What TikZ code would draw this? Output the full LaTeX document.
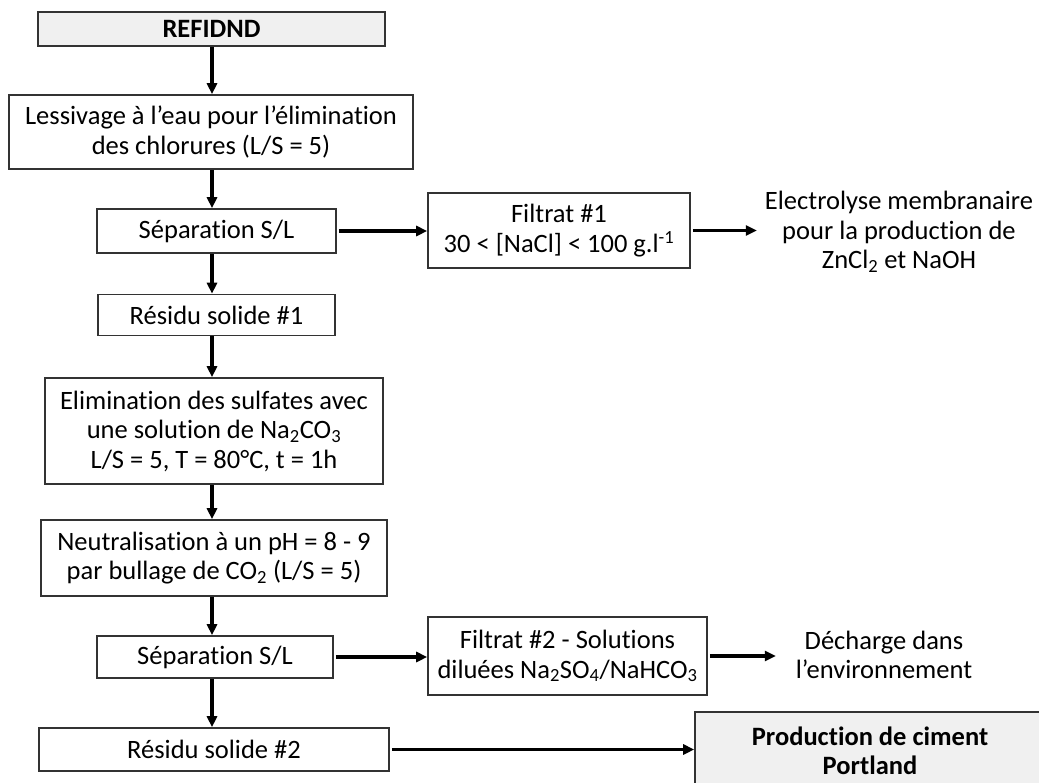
\documentclass[tikz,border=0pt]{standalone}
\usepackage{fontspec}
\setmainfont[Ligatures=NoCommon]{Carlito}
\usetikzlibrary{arrows.meta}
\begin{document}
\begin{tikzpicture}[x=1pt,y=-1pt,
  every node/.style={font=\fontsize{26.5}{29.5}\selectfont, align=center, inner sep=0pt},
  box/.style={draw=black!80, line width=1.6pt, fill=white},
  gbox/.style={draw=black!80, line width=1.6pt, fill=black!6},
  arr/.style={line width=3.2pt, -{Triangle[length=11pt,width=10pt]}}]
\useasboundingbox (0,0) rectangle (1039,782);
\coordinate (spine) at (212,0);
\node[gbox, minimum width=347pt, minimum height=34pt] (refidnd) at (211.5,29) {\bfseries REFIDND};
\node[box, minimum width=404pt, minimum height=74pt] (less) at (211,132) {Lessivage à l’eau pour l’élimination\\des chlorures (L/S = 5)};
\node[box, minimum width=239pt, minimum height=44pt] (sep1) at (216.5,231) {Séparation S/L};
\node[box, minimum width=262pt, minimum height=75pt] (filt1) at (559,230.5) {Filtrat \#1\\30 < [NaCl] < 100 g.l\textsuperscript{-1}};
\node (elec) at (899,232) {Electrolyse membranaire\\pour la production de\\ZnCl\textsubscript{2} et NaOH};
\node[box, minimum width=237pt, minimum height=41pt] (res1) at (216.5,315) {Résidu solide \#1};
\node[box, minimum width=338pt, minimum height=106pt] (elim) at (214,431) {Elimination des sulfates avec\\une solution de Na\textsubscript{2}CO\textsubscript{3}\\L/S = 5, T = 80°C, t = 1h};
\node[box, minimum width=346pt, minimum height=76pt] (neut) at (214,558) {Neutralisation à un pH = 8 - 9\\par bullage de CO\textsubscript{2} (L/S = 5)};
\node[box, minimum width=236pt, minimum height=42pt] (sep2) at (215,657) {Séparation S/L};
\node[box, minimum width=279pt, minimum height=78pt] (filt2) at (567.5,656) {Filtrat \#2 - Solutions\\diluées Na\textsubscript{2}SO\textsubscript{4}/NaHCO\textsubscript{3}};
\node (dech) at (884,655) {Décharge dans\\l’environnement};
\node[box, minimum width=350pt, minimum height=43pt] (res2) at (214,749.5) {Résidu solide \#2};
\node[gbox, minimum width=350pt, minimum height=78pt] (prod) at (870,751) {\bfseries Production de ciment\\\bfseries Portland};
\draw[arr] (refidnd.south -| spine) -- (less.north -| spine);
\draw[arr] (less.south -| spine) -- (sep1.north -| spine);
\draw[arr] (sep1.south -| spine) -- (res1.north -| spine);
\draw[arr] (res1.south -| spine) -- (elim.north -| spine);
\draw[arr] (elim.south -| spine) -- (neut.north -| spine);
\draw[arr] (neut.south -| spine) -- (sep2.north -| spine);
\draw[arr] (sep2.south -| spine) -- (res2.north -| spine);
\draw[arr] ([xshift=2pt]sep1.east) -- (sep1.east -| filt1.west);
\draw[arr] ([xshift=2pt]filt1.east) -- ++(64,0) coordinate (elecin);
\draw[arr] ([xshift=2pt]sep2.east) -- (sep2.east -| filt2.west);
\draw[arr] ([xshift=2pt]filt2.east) -- ++(66,0) coordinate (dechin);
\draw[arr] ([xshift=2pt]res2.east) -- (res2.east -| prod.west);
\end{tikzpicture}
\end{document}
